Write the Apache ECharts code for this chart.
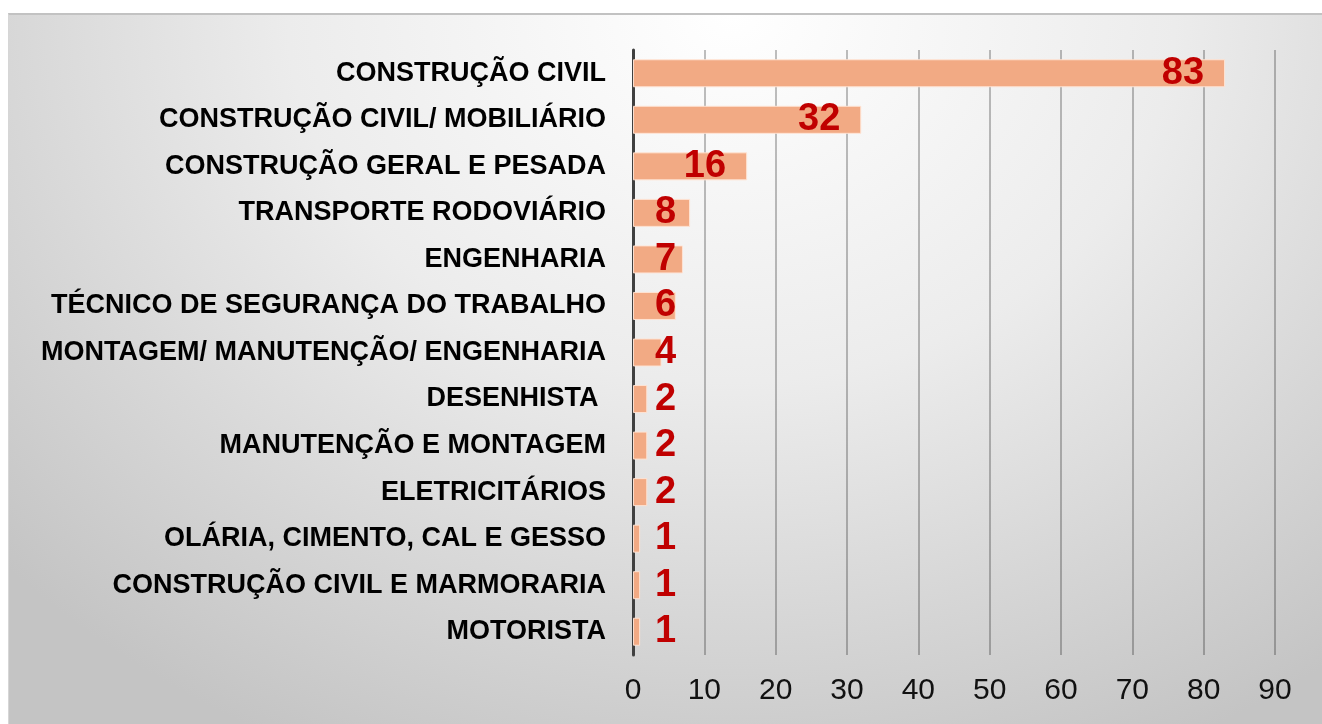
<!DOCTYPE html>
<html lang="pt">
<head>
  <meta charset="UTF-8">
  <title>Categorias</title>
  <script src="https://cdn.jsdelivr.net/npm/echarts@6/dist/echarts.min.js"></script>
  <style>
    html, body {
      margin: 0;
      padding: 0;
      background: #ffffff;
      width: 1322px;
      height: 724px;
      overflow: hidden;
    }
    #panel {
      position: absolute;
      left: 8px;
      top: 13px;
      width: 1314px;
      height: 709px;
      border-top: 2px solid #c2c2c2;
      border-left: 1px solid #d6d6d6;
      background: radial-gradient(ellipse 75% 115% at 55% 0%, #ffffff 0%, #ececec 45%, #d6d6d6 75%, #c4c4c4 100%);
    }
    #main {
      position: absolute;
      left: 0;
      top: 0;
      width: 1322px;
      height: 724px;
    }
  </style>
</head>
<body>
  <div id="panel"></div>
  <div id="main"></div>

  <script>
    // dados
    const categorias = [
      'CONSTRUÇÃO CIVIL',
      'CONSTRUÇÃO CIVIL/ MOBILIÁRIO',
      'CONSTRUÇÃO GERAL E PESADA',
      'TRANSPORTE RODOVIÁRIO',
      'ENGENHARIA',
      'TÉCNICO DE SEGURANÇA DO TRABALHO',
      'MONTAGEM/ MANUTENÇÃO/ ENGENHARIA',
      'DESENHISTA ',
      'MANUTENÇÃO E MONTAGEM',
      'ELETRICITÁRIOS',
      'OLÁRIA, CIMENTO, CAL E GESSO',
      'CONSTRUÇÃO CIVIL E MARMORARIA',
      'MOTORISTA'
    ];
    const valores = [83, 32, 16, 8, 7, 6, 4, 2, 2, 2, 1, 1, 1];
    const ticks = [0, 10, 20, 30, 40, 50, 60, 70, 80, 90];

    var myChart = echarts.init(document.getElementById('main'), null, { renderer: 'canvas' });

    // rótulo dentro da barra para valores grandes, à esquerda para os pequenos
    const dados = valores.map(v => ({
      value: v,
      label: v >= 16
        ? { position: 'insideRight', distance: 21 }
        : { position: 'insideLeft', distance: 22 }
    }));

    var option = {
      backgroundColor: 'transparent',
      animation: false,
      grid: { left: 633, right: 47, top: 50, bottom: 69 },
      xAxis: {
        type: 'value',
        min: ticks[0],
        max: ticks[ticks.length - 1],
        interval: 10,
        axisLine: { show: false },
        axisTick: { show: false },
        axisLabel: {
          color: '#111111',
          fontFamily: 'Liberation Sans, Arial, sans-serif',
          fontSize: 30,
          margin: 21
        },
        splitLine: { lineStyle: { color: 'rgba(0,0,0,0.25)', width: 2 } }
      },
      yAxis: {
        type: 'category',
        data: categorias,
        inverse: true,
        axisLine: { lineStyle: { color: '#404040', width: 3 } },
        axisTick: { show: false },
        axisLabel: {
          color: '#000000',
          fontFamily: 'Liberation Sans, Arial, sans-serif',
          fontWeight: 'bold',
          fontSize: 27,
          margin: 27
        }
      },
      series: [{
        type: 'bar',
        data: dados,
        barWidth: 28,
        itemStyle: {
          color: '#F2AA84',
          borderColor: 'rgba(255,228,212,0.95)',
          borderWidth: 1
        },
        label: {
          show: true,
          color: '#C00000',
          fontFamily: 'Liberation Sans, Arial, sans-serif',
          fontWeight: 'bold',
          fontSize: 38
        }
      }]
    };

    myChart.setOption(option);
  </script>
</body>
</html>
